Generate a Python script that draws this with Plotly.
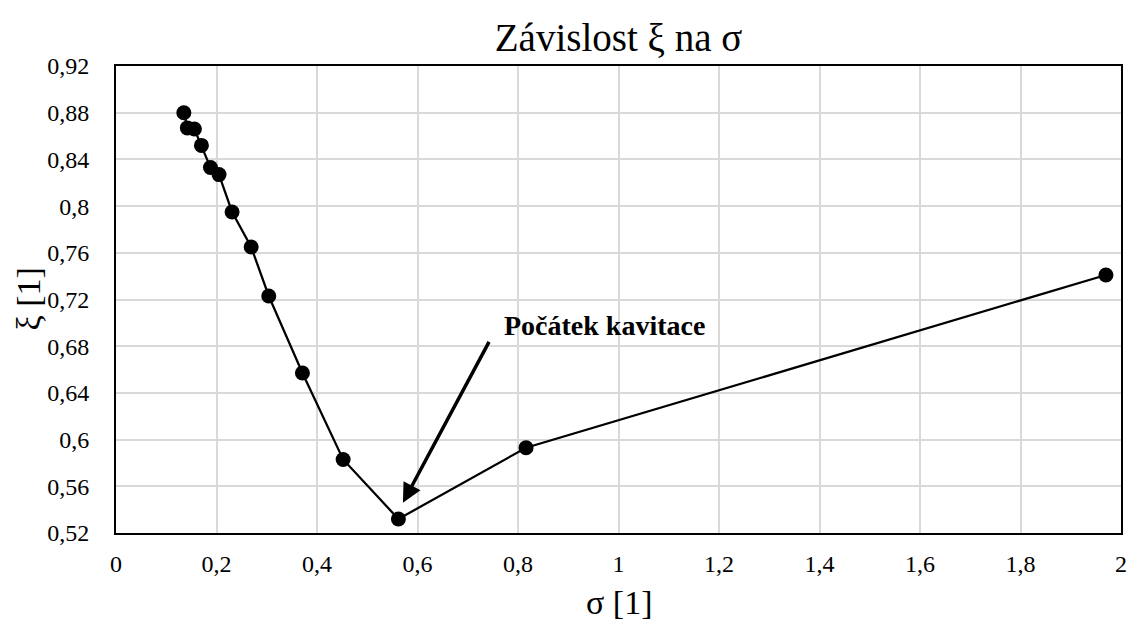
import plotly.graph_objects as go

sigma = [0.135, 0.142, 0.156, 0.170, 0.188, 0.205, 0.231, 0.269, 0.304, 0.371, 0.452, 0.562, 0.816, 1.970]
xi = [0.880, 0.867, 0.866, 0.852, 0.833, 0.827, 0.795, 0.765, 0.723, 0.657, 0.583, 0.532, 0.593, 0.741]

x_tickvals = [0, 0.2, 0.4, 0.6, 0.8, 1.0, 1.2, 1.4, 1.6, 1.8, 2.0]
x_ticktext = ["0", "0,2", "0,4", "0,6", "0,8", "1", "1,2", "1,4", "1,6", "1,8", "2"]
y_tickvals = [0.52, 0.56, 0.60, 0.64, 0.68, 0.72, 0.76, 0.80, 0.84, 0.88, 0.92]
y_ticktext = ["0,52", "0,56", "0,6", "0,64", "0,68", "0,72", "0,76", "0,8", "0,84", "0,88", "0,92"]

title_text = "Závislost ξ na σ"
x_title = "σ [1]"
y_title = "ξ [1]"
note_text = "<b>Počátek kavitace</b>"

FONT = "Liberation Serif, Times New Roman, serif"

fig = go.Figure()
fig.add_trace(go.Scatter(
    x=sigma, y=xi, mode="lines+markers",
    line=dict(color="black", width=2.25),
    marker=dict(color="black", size=15),
    showlegend=False,
))

fig.add_annotation(
    x=0.571, y=0.546, ax=0.744, ay=0.685,
    xref="x", yref="y", axref="x", ayref="y",
    text="", showarrow=True, arrowhead=2, arrowsize=1.1, arrowwidth=3.5, arrowcolor="black",
)
fig.add_annotation(
    x=0.973, y=0.698, xref="x", yref="y", text=note_text, showarrow=False,
    font=dict(family=FONT, size=28, color="black"),
)
# axis titles
fig.add_annotation(
    x=0.5, y=0, xref="paper", yref="paper", xanchor="center", yanchor="middle",
    yshift=-69, text=x_title, showarrow=False,
    font=dict(family=FONT, size=34, color="black"),
)
fig.add_annotation(
    x=0, y=0.5, xref="paper", yref="paper", xanchor="center", yanchor="middle",
    xshift=-88, textangle=-90, text=y_title, showarrow=False,
    font=dict(family=FONT, size=34, color="black"),
)

fig.update_layout(
    width=1130, height=623,
    margin=dict(l=116, r=9, t=66, b=90),
    paper_bgcolor="white", plot_bgcolor="white",
    font=dict(family=FONT, color="black"),
    title=dict(text=title_text, x=0.5, xref="paper", xanchor="center",
               y=1 - 37 / 623, yref="container", yanchor="middle",
               font=dict(family=FONT, size=39, color="black")),
)
fig.update_xaxes(
    range=[0, 2], tickvals=x_tickvals, ticktext=x_ticktext,
    showgrid=True, gridcolor="#d9d9d9", gridwidth=1.5,
    showline=True, linecolor="black", linewidth=2, mirror=True,
    zeroline=False, ticks="", ticklabelstandoff=8, automargin=False,
    ticklabeloverflow="allow",
    tickfont=dict(family=FONT, size=24, color="black"),
)
fig.update_yaxes(
    range=[0.52, 0.92], tickvals=y_tickvals, ticktext=y_ticktext,
    showgrid=True, gridcolor="#d9d9d9", gridwidth=1.5,
    showline=True, linecolor="black", linewidth=2, mirror=True,
    zeroline=False, ticks="", ticklabelstandoff=20, automargin=False,
    tickfont=dict(family=FONT, size=24, color="black"),
)

fig.write_html(
    "out.html",
    config={"displayModeBar": False},
    post_script="document.body.style.margin='0px';document.body.style.overflow='hidden';",
)
